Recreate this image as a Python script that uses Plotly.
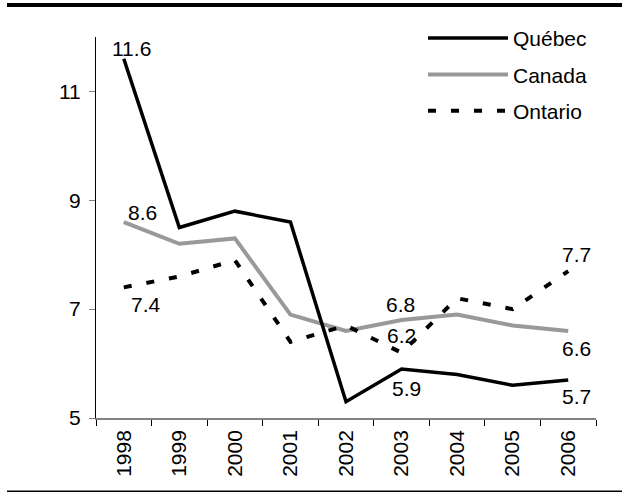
import plotly.graph_objects as go

years = ["1998", "1999", "2000", "2001", "2002", "2003", "2004", "2005", "2006"]
quebec = [11.6, 8.5, 8.8, 8.6, 5.3, 5.9, 5.8, 5.6, 5.7]
canada = [8.6, 8.2, 8.3, 6.9, 6.6, 6.8, 6.9, 6.7, 6.6]
ontario = [7.4, 7.6, 7.9, 6.4, 6.7, 6.2, 7.2, 7.0, 7.7]
y_ticks = [5, 7, 9, 11]

FONT = "Liberation Sans, Arial, sans-serif"
FS = 21

fig = go.Figure()
fig.add_trace(go.Scatter(x=years, y=canada, name="Canada", mode="lines",
                         line=dict(color="#999999", width=4), legendrank=2,
                         legendgroup="c"))
fig.add_trace(go.Scatter(x=years, y=quebec, name="Québec", mode="lines",
                         line=dict(color="#000000", width=3.5), legendrank=1,
                         legendgroup="q"))
fig.add_trace(go.Scatter(x=years, y=ontario, name="Ontario", mode="lines",
                         line=dict(color="#000000", width=4, dash="8px,15px"),
                         legendrank=3, legendgroup="o"))

# data labels: (series, index, xshift, yshift)
labels = [
    (quebec, 0, 8, 10),
    (canada, 0, 19, 10),
    (ontario, 0, 22, -17),
    (canada, 5, -1, 16),
    (ontario, 5, 0, 17),
    (quebec, 5, 5, -19),
    (ontario, 8, 8, 17),
    (canada, 8, 8, -18),
    (quebec, 8, 8, -17),
]
for s, i, dx, dy in labels:
    fig.add_annotation(x=i, y=s[i], xref="x", yref="y",
                       text="%.1f" % s[i], showarrow=False,
                       xshift=dx, yshift=dy, xanchor="center", yanchor="middle",
                       font=dict(family=FONT, size=FS, color="#000000"))

# decorative rules top and bottom
fig.add_shape(type="line", xref="paper", yref="paper",
              x0=-0.178, x1=1.052, y0=1.084, y1=1.084,
              line=dict(color="#000000", width=4))
fig.add_shape(type="line", xref="paper", yref="paper",
              x0=-0.178, x1=1.052, y0=-0.192, y1=-0.192,
              line=dict(color="#000000", width=1.5))

fig.update_layout(
    width=629, height=501,
    margin=dict(l=96, r=33, t=37, b=83, autoexpand=False),
    paper_bgcolor="white", plot_bgcolor="white",
    font=dict(family=FONT, size=FS, color="#000000"),
    showlegend=True,
    legend=dict(x=0.654, y=1.05, xanchor="left", yanchor="top",
                bgcolor="rgba(0,0,0,0)", itemwidth=80,
                font=dict(family=FONT, size=FS), tracegroupgap=6),
    xaxis=dict(type="category", range=[-0.5, 8.5], showgrid=False,
               showline=True, linecolor="#808080", linewidth=1.5,
               ticks="outside", ticklen=6, tickcolor="#000000", tickwidth=1,
               tickson="boundaries", tickangle=-90, ticklabelstandoff=2,
               tickfont=dict(family=FONT, size=FS)),
    yaxis=dict(range=[5, 12], tickvals=y_ticks, showgrid=False, zeroline=False,
               showline=True, linecolor="#000000", linewidth=1,
               ticks="outside", ticklen=6, tickcolor="#808080", tickwidth=1,
               ticklabelstandoff=4,
               tickfont=dict(family=FONT, size=FS)),
)

fig.write_html("out.html", config={"displayModeBar": False},
               post_script="document.body.style.margin='0';document.body.style.overflow='hidden';")
